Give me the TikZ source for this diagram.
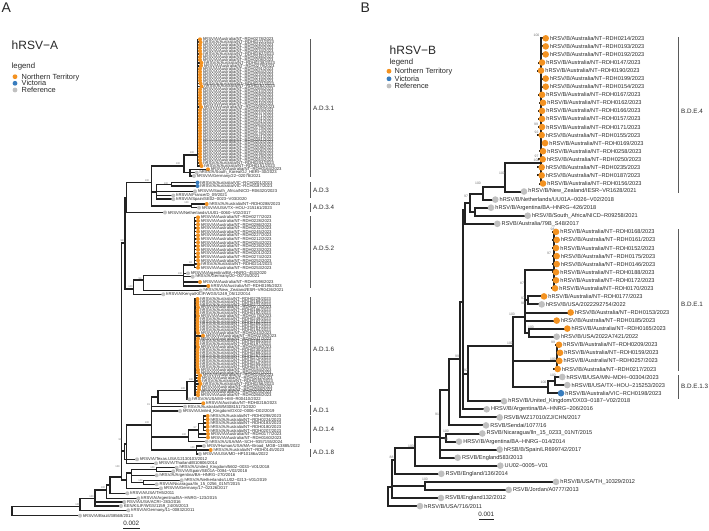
\documentclass[tikz,border=0pt]{standalone}
\usepackage{fontspec}
\setmainfont{Liberation Sans}
\usetikzlibrary{backgrounds}
\definecolor{ntor}{RGB}{243,146,33}
\definecolor{vicb}{RGB}{57,125,190}
\definecolor{refg}{RGB}{192,192,192}
\definecolor{brc}{RGB}{35,35,35}
\definecolor{txc}{RGB}{40,40,40}
\definecolor{bsc}{RGB}{115,115,115}
\definecolor{clc}{RGB}{90,90,90}
\tikzset{
 brA/.style={draw=brc, line width=1.5pt, line cap=rect},
 brB/.style={draw=brc, line width=2pt, line cap=rect},
 tipA/.style={circle, inner sep=0pt, minimum size=4pt, draw=none},
 tipB/.style={circle, inner sep=0pt, minimum size=6.6pt, draw=none},
 labA/.style={anchor=west, inner sep=0pt, font=\fontsize{4.2}{4.2}\selectfont, text=txc, xshift=0.5pt},
 labB/.style={anchor=west, inner sep=0pt, font=\fontsize{5.6}{5.6}\selectfont, text=txc, xshift=0.7pt},
 bsA/.style={inner sep=0pt, font=\fontsize{2.6}{2.6}\selectfont, text=bsc},
 bsB/.style={inner sep=0pt, font=\fontsize{3.4}{3.4}\selectfont, text=bsc},
 clade/.style={draw=clc, line width=0.8pt},
 cladelab/.style={anchor=west, inner sep=0pt, font=\fontsize{6.3}{6.3}\selectfont, text=txc},
 legdot/.style={circle, inner sep=0pt, minimum size=4.8pt, draw=none},
 legtxt/.style={anchor=base west, inner sep=0pt, font=\fontsize{7.4}{7.4}\selectfont, text=txc},
 ttl/.style={anchor=base west, inner sep=0pt, font=\fontsize{12}{12}\selectfont, text=txc},
 legttl/.style={anchor=base west, inner sep=0pt, font=\fontsize{7.8}{7.8}\selectfont, text=txc},
 panel/.style={anchor=north west, inner sep=0pt, font=\fontsize{14}{14}\selectfont, text=txc},
 sbar/.style={draw=brc, line width=0.9pt},
 slab/.style={anchor=base, inner sep=0pt, font=\fontsize{6.3}{6.3}\selectfont, text=txc},
}
\newcommand\tipa[5]{\node[tipA,fill=#4] (#1) at (#2,#3) {};\node[labA] (#1l) at (#1.east) {#5};}
\newcommand\tipb[5]{\node[tipB,fill=#4] (#1) at (#2,#3) {};\node[labB] (#1l) at (#1.east) {#5};}
\newcommand\ntb[4]{\tipb{#1}{#2}{#3}{ntor}{hRSV/B/Australia/NT−RDH#4/2023}}
\newcommand\nta[4]{\tipa{#1}{#2}{#3}{ntor}{hRSV/A/Australia/NT−RDH#4/2023}}
\newcounter{bsn}
\newcommand\bsa[3]{\stepcounter{bsn}\node[bsA] (bs\thebsn) at (#1,#2) {#3};}
\newcommand\bsb[3]{\stepcounter{bsn}\node[bsB] (bs\thebsn) at (#1,#2) {#3};}
\newcommand\cbar[6]{\coordinate (#1t) at (#2,#3);\coordinate (#1b) at (#2,#4);\draw[clade] (#1t) -- (#1b);\node[cladelab] (#1l) at (#2+3,#5) {#6};}
\begin{document}
\begin{tikzpicture}[x=1pt,y=-1pt]
\useasboundingbox (0,0) rectangle (709,530);
% ---------- panel letters, titles, legends ----------
\node[panel] (pA) at (1.5,3) {A};
\node[panel] (pB) at (360.5,3) {B};
\node[ttl] (tA) at (11.5,49.3) {hRSV−A};
\node[legttl] (lgA) at (11.5,68.7) {legend};
\node[legdot,fill=ntor] (lA1) at (15,76.7) {};
\node[legdot,fill=vicb] (lA2) at (15,83.3) {};
\node[legdot,fill=refg] (lA3) at (15,90) {};
\node[legtxt] (lA1t) at (21.5,79.3) {Northern Territory};
\node[legtxt] (lA2t) at (21.5,85.9) {Victoria};
\node[legtxt] (lA3t) at (21.5,92.6) {Reference};
\node[ttl] (tB) at (389.5,54.5) {hRSV−B};
\node[legttl] (lgB) at (389.5,64.5) {legend};
\node[legdot,fill=ntor] (lB1) at (389,71.2) {};
\node[legdot,fill=vicb] (lB2) at (389,78.8) {};
\node[legdot,fill=refg] (lB3) at (389,86) {};
\node[legtxt] (lB1t) at (394.5,73.8) {Northern Territory};
\node[legtxt] (lB2t) at (394.5,81.4) {Victoria};
\node[legtxt] (lB3t) at (394.5,88.6) {Reference};
% ---------- panel A tips ----------
\foreach \lab/\xx [count=\i] in {0278/200,0222/200.5,0240/200,0260/200,0234/200,0262/200.5,0246/200,0208/200,0238/201.5,0279/201,0291/200,0264/200,0220/200,0215/200,0248/200,0247/200.5,0282/201.5,0265/200,0244/200,0280/200,0213/200,0210/200,0216/200,0290/201,0225/200,0237/200,0271/200,0231/200,0181/200,0263/200,0179/200,0173/200,0176/200,0221/200,0281/200,0202/200,0200/200,0209/200,0206/200,0236/200,0219/200,0283/200,0204/200.5,0151/201.5}{
 \pgfmathsetmacro\yy{39.3+2.947*(\i-1)}
 \nta{a31-\i}{\xx}{\yy}{\lab}
}
\foreach \lab/\xx [count=\i] in {0277/198,0228/198,0286/198,0232/198,0245/198,0227/198,0212/198,0254/198,0226/198,0233/198,0201/198,0274/198,0252/198,0214/198.5,0253/198}{
 \pgfmathsetmacro\yy{217.3+3.6*(\i-1)}
 \nta{a52-\i}{\xx}{\yy}{\lab}
}
\foreach \lab/\xx [count=\i] in {0229/197.5,0189/197.5,0272/197.5,0273/198,0186/197.5,0192/197.5,0178/198,0249/197.5,0182/197.5,0269/197.5,0261/197.5,0194/197.5,0243/198,0239/203,0241/198,0285/197.5,0197/197.5,0259/198,0230/197.5,0268/197.5,0267/197.5,0270/197.5,0275/197.5,0255/197.5,0257/197.5,0184/198,0287/198,0196/200,0242/199,0205/199.5,0256/200.5,0284/199,0289/199,0203/198,0266/198}{
 \pgfmathsetmacro\yy{299+2.83*(\i-1)}
 \nta{a16-\i}{\xx}{\yy}{\lab}
}
\nta{a164}{208}{169.3}{0164}
\tipa{akor}{196.7}{172.7}{refg}{hRSV/A/South\_Korea/GJ\_HERI−30/2023}
\tipa{ager22}{194}{176}{refg}{hRSV/A/Germany/22−02078/2021}
\tipa{avic1}{197.5}{182.5}{vicb}{hRSV/A/Australia/VIC−RCH0201/2023}
\tipa{avic2}{197.5}{186}{vicb}{hRSV/A/Australia/VIC−RCH0187/2023}
\tipa{asa}{195}{191.3}{refg}{hRSV/A/South\_Africa/NICD−R06320/2023}
\tipa{afra}{173.3}{195.5}{refg}{hRSV/A/France/D\_09/2021}
\tipa{aspa}{173.3}{199.2}{refg}{hRSV/A/Spain/SE02−0023−V03/2020}
\nta{a288}{206.7}{204}{0288}
\tipa{atx}{199}{207.7}{refg}{hRSV/A/USA/TX−HOU−215161/2023}
\tipa{anet}{165}{212.5}{refg}{hRSV/A/Netherlands/UU01−0060−V02/2017}
\tipa{aarg}{188}{273.3}{refg}{hRSV/A/Argentina/BA−HNRG−453/2020}
\tipa{ager20}{192.7}{276.7}{refg}{hRSV/A/Germany/20−00725/2021}
\nta{a198}{200}{282}{0198}
\nta{a195}{208.3}{286}{0195}
\tipa{anz}{200.7}{290.7}{refg}{hRSV/A/New\_Zealand/ESR−VR0426/2021}
\tipa{aken}{163.3}{294.3}{refg}{hRSV/A/Kenya/KILIF/WGS/1249\_05/12/2014}
\tipa{ami}{189.5}{399.3}{refg}{hRSV/A/USA/MI−HMI−R00410/2022}
\nta{a218}{203.3}{403.3}{0218}
\tipa{awm}{185}{406.7}{refg}{RSV/A/Australia/WM30815173/2020}
\tipa{auk19}{180}{411}{refg}{hRSV/A/United\_Kingdom/OX02−0006−D02/2019}
\nta{a14-1}{207.7}{416}{0298}
\nta{a14-2}{207.7}{419.5}{0224}
\nta{a14-3}{207.7}{423}{0183}
\nta{a14-4}{207.7}{426.8}{0180}
\nta{a14-5}{207.7}{430.5}{0207}
\nta{a14-6}{208}{434}{0177}
\nta{a14-7}{208}{437.5}{0160}
\tipa{ausa24}{206.7}{441.7}{refg}{hRSV/A/USA/MA−SCH−9357155/2024}
\tipa{ama}{204}{446}{refg}{hRSV/Human/USA/MA−Broad\_MGB−13885/2022}
\nta{a145}{210.7}{450}{0145}
\tipa{amd}{200}{454}{refg}{hRSV/A/USA/MD−HP10186a/2022}
\tipa{atex}{137}{459.3}{refg}{hRSV/A/Texas.USA/12130103/2012}
\tipa{atha}{156}{463.3}{refg}{hRSV/A/Thailand/B10806/2014}
\tipa{auk18}{176.7}{467.7}{refg}{hRSV/A/United\_Kingdom/5602−0033−V01/2018}
\tipa{aspa18}{173.3}{471.3}{refg}{RSV/A/Spain/SE01A−0084−V02/2018}
\tipa{aarg16}{156.7}{475.3}{refg}{hRSV/A/Argentina/BA−HNRG−270/2016}
\tipa{anet19}{181.7}{480.3}{refg}{hRSV/A/Netherlands/LU02−0213−V01/2019}
\tipa{anic}{156.7}{484.3}{refg}{RSV/A/Nicaragua/Iln\_15\_0256\_01NT/2015}
\tipa{ager17}{161}{488.3}{refg}{hRSV/A/Germany/17−02326/2017}
\tipa{ath5}{127.3}{493.3}{refg}{hRSV/A/USA/TH5/2011}
\tipa{aarg15}{138.3}{498.3}{refg}{hRSV/A/Argentina/BA−HNRG−123/2015}
\tipa{aacri}{124.3}{502}{refg}{RSV/A/USA/ACRI−283/2016}
\tipa{akenk}{121}{506}{refg}{KEN/KILIF/WGS/1159\_24/05/2013}
\tipa{ager11}{128.3}{510.3}{refg}{hRSV/A/Germany/11−00832/2011}
\tipa{abra}{80}{515.7}{refg}{hRSV/A/Brazil/38568/2013}
% ---------- panel A internal nodes ----------
\coordinate (o31) at (197.5,155);
\coordinate (p190) at (190,172.7);
\coordinate (p184) at (184,166);
\coordinate (p171) at (171.7,184.3);
\coordinate (p156) at (156.7,192);
\coordinate (p191) at (191.7,205.8);
\coordinate (p151) at (151.7,182.7);
\coordinate (p126) at (126.7,197.7);
\coordinate (o52) at (194.5,265);
\coordinate (p183) at (183.3,275.7);
\coordinate (p143) at (143.3,280);
\coordinate (p133) at (133.3,289);
\coordinate (p125) at (125,243);
\coordinate (o16) at (195,381.7);
\coordinate (p187) at (187,390.7);
\coordinate (p158) at (158,397);
\coordinate (p14c) at (203.3,423.3);
\coordinate (p14b) at (198.3,430);
\coordinate (p14a) at (188.3,437);
\coordinate (p18) at (196.7,450);
\coordinate (p151c) at (151.7,425);
\coordinate (p126b) at (126.7,444);
\coordinate (p125b) at (124.5,451);
\coordinate (pUKSp) at (156.7,469.5);
\coordinate (pNetNic) at (143.3,482.3);
\coordinate (p131) at (131.7,473);
\coordinate (pG) at (126.7,480);
\coordinate (p121) at (121.7,477);
\coordinate (p110) at (110,485);
\coordinate (p106) at (106.7,490);
\coordinate (p95) at (95,498.3);
\coordinate (p80) at (80,506.7);
\coordinate (pR) at (12,511);
% ---------- panel A bootstrap ----------
\bsa{192}{153}{100}\bsa{178}{164}{100}\bsa{147}{180.5}{100}\bsa{166}{184}{100}
\bsa{186.5}{202.3}{100}\bsa{122}{241}{98}\bsa{130.5}{287}{100}\bsa{140}{278.3}{94}
\bsa{180}{273.5}{100}\bsa{190.5}{263}{92}\bsa{191}{379.8}{100}\bsa{183}{388.8}{100}
\bsa{147}{423}{100}\bsa{148.5}{405}{91}\bsa{184}{435}{100}\bsa{195}{428}{97}
\bsa{192.5}{448}{100}\bsa{120}{440}{99}\bsa{117.5}{466.5}{100}\bsa{140.5}{480.3}{100}
\bsa{152.5}{467.5}{100}\bsa{103}{488}{100}\bsa{91.5}{496.5}{100}\bsa{77.5}{505}{100}
% ---------- panel A clades ----------
\cbar{cA1}{310}{39}{177}{108}{A.D.3.1}
\cbar{cA2}{310}{182}{198}{190.5}{A.D.3}
\cbar{cA3}{310}{203}{212}{207.5}{A.D.3.4}
\cbar{cA4}{310}{216}{288}{248}{A.D.5.2}
\cbar{cA5}{310}{297}{402}{349}{A.D.1.6}
\cbar{cA6}{310}{405}{414.5}{410}{A.D.1}
\cbar{cA7}{310}{416}{443}{429.5}{A.D.1.4}
\cbar{cA8}{310}{449}{457}{452.5}{A.D.1.8}
% ---------- panel B tips ----------
\ntb{b1}{545.7}{38.3}{0214}
\ntb{b2}{545.7}{46.4}{0193}
\ntb{b3}{545.7}{54.4}{0192}
\ntb{b4}{542}{62.5}{0147}
\ntb{b5}{541}{70.6}{0190}
\ntb{b6}{545.7}{78.6}{0199}
\ntb{b7}{545.7}{86.7}{0154}
\ntb{b8}{542}{94.8}{0167}
\ntb{b9}{543}{102.8}{0162}
\ntb{b10}{542}{110.9}{0166}
\ntb{b11}{542}{118.9}{0157}
\ntb{b12}{542}{127.0}{0171}
\ntb{b13}{541.7}{135.1}{0155}
\ntb{b14}{545}{143.1}{0169}
\ntb{b15}{543}{151.2}{0258}
\ntb{b16}{542.7}{159.3}{0250}
\ntb{b17}{541.7}{167.3}{0235}
\ntb{b18}{541.7}{175.4}{0187}
\ntb{b19}{543}{183.5}{0156}
\tipb{b20}{524}{191.5}{refg}{hRSV/B/New\_Zealand/IESR−VR1628/2021}
\tipb{b21}{495.3}{199.6}{refg}{hRSV/B/Netherlands/UU01A−0026−V02/2018}
\tipb{b22}{491}{207.7}{refg}{hRSV/B/Argentina/BA−HNRG−426/2018}
\tipb{b23}{527.7}{215.7}{refg}{hRSV/B/South\_Africa/NICD−R09258/2021}
\tipb{b24}{497.3}{223.8}{refg}{RSVB/Australia/79B\_S48/2017}
\ntb{b25}{556}{231.9}{0168}
\ntb{b26}{556.7}{239.9}{0161}
\ntb{b27}{556}{248.0}{0152}
\ntb{b28}{556.7}{256.1}{0175}
\ntb{b29}{556.7}{264.1}{0146}
\ntb{b30}{556}{272.2}{0188}
\ntb{b31}{556}{280.3}{0172}
\ntb{b32}{555}{288.3}{0170}
\ntb{b33}{544}{296.4}{0177}
\tipb{b34}{541.7}{304.4}{refg}{hRSV/B/USA/2022292754/2022}
\ntb{b35}{570.7}{312.5}{0153}
\ntb{b36}{556.7}{320.6}{0185}
\ntb{b37}{567.3}{328.6}{0165}
\tipb{b38}{556.7}{336.7}{refg}{hRSV/B/USA/2022A7421/2022}
\ntb{b39}{559}{344.8}{0209}
\ntb{b40}{560}{352.8}{0159}
\ntb{b41}{559.3}{360.9}{0257}
\ntb{b42}{557.7}{369.0}{0217}
\tipb{b43}{562.3}{377.0}{refg}{hRSV/B/USA/MN−MDH−00304/2023}
\tipb{b44}{567.3}{385.1}{refg}{hRSV/B/USA/TX−HOU−215253/2023}
\tipb{b45}{561}{393.2}{vicb}{hRSV/B/Australia/VIC−RCH0198/2023}
\tipb{b46}{504}{401.2}{refg}{hRSV/B/United\_Kingdom/OX03−0187−V02/2018}
\tipb{b47}{486.7}{409.3}{refg}{HRSV/B/Argentina/BA−HNRG−206/2016}
\tipb{b48}{499.7}{417.4}{refg}{RSVB/WZ17010/ZJ/CHN/2017}
\tipb{b49}{486}{425.4}{refg}{RSVB/Sendai/1077/16}
\tipb{b50}{482.3}{433.5}{refg}{RSVB/Nicaragua/Iln\_15\_0233\_01NT/2015}
\tipb{b51}{459}{441.6}{refg}{HRSV/B/Argentina/BA−HNRG−014/2014}
\tipb{b52}{499.7}{449.6}{refg}{hRSB/B/Spain/LR699742/2017}
\tipb{b53}{457.7}{457.7}{refg}{RSVB/England583/2013}
\tipb{b54}{500.3}{465.7}{refg}{UU02−0005−V01}
\tipb{b55}{441.3}{473.8}{refg}{RSVB/England/136/2014}
\tipb{b56}{556}{481.9}{refg}{hRSV/B/USA/TH\_10329/2012}
\tipb{b57}{508.7}{489.9}{refg}{RSVB/Jordan/A0777/2013}
\tipb{b58}{441}{498.0}{refg}{RSVB/England132/2012}
\tipb{b59}{420}{506.1}{refg}{hRSV/B/USA/716/2011}
% ---------- panel B internal nodes ----------
\coordinate (qE4) at (540.5,163);
\coordinate (qN505) at (505,187);
\coordinate (qN483) at (482.7,193.5);
\coordinate (qN475) at (475,211.7);
\coordinate (qN470) at (470,202.6);
\coordinate (qN465) at (465,210);
\coordinate (qS1) at (553.5,270);
\coordinate (qA527) at (527.5,300.4);
\coordinate (qB527) at (529,332.7);
\coordinate (qE1) at (525,317);
\coordinate (qS2) at (556.5,361);
\coordinate (qN555) at (555,381);
\coordinate (qE13) at (548,387);
\coordinate (qM) at (513,346);
\coordinate (qN468) at (468,373.5);
\coordinate (qN463) at (463,302);
\coordinate (qN459) at (459.5,359);
\coordinate (qN449) at (449,390);
\coordinate (qNA) at (446,437.5);
\coordinate (qN440) at (440,437);
\coordinate (qN415) at (415,448);
\coordinate (qN395) at (395,460);
\coordinate (qN425) at (425,486);
\coordinate (qX) at (392,487);
\coordinate (qR) at (388,496);
% ---------- panel B bootstrap ----------
\bsb{536.5}{35.5}{100}\bsb{536}{124.5}{99}\bsb{536.5}{132.5}{92}\bsb{536.5}{156.5}{97}
\bsb{536.5}{160.5}{100}\bsb{502}{173.5}{100}\bsb{478}{183.5}{100}\bsb{466}{196.5}{97}
\bsb{552.5}{229.5}{98}\bsb{549}{253.5}{97}\bsb{522}{283.5}{87}\bsb{523}{298.5}{97}
\bsb{523}{303}{98}\bsb{531}{327}{100}\bsb{512}{314.5}{100}\bsb{510}{343}{100}
\bsb{457}{356}{99}\bsb{466}{370}{92}\bsb{553}{342.5}{99}\bsb{553}{359.5}{100}
\bsb{543.5}{382.5}{100}\bsb{553}{375.5}{100}\bsb{437}{414.5}{91}\bsb{446}{431.5}{100}
\bsb{446}{439.8}{90}\bsb{411}{446.5}{100}\bsb{391.5}{457.5}{88}\bsb{425}{479.8}{100}
% ---------- panel B clades ----------
\cbar{cB1}{678}{37}{193}{111}{B.D.E.4}
\cbar{cB2}{678}{229}{371}{304}{B.D.E.1}
\cbar{cB3}{678}{375}{399}{386}{B.D.E.1.3}
% ---------- scale bars ----------
\coordinate (sA1) at (123,528);
\coordinate (sA2) at (139.5,528);
\draw[sbar] (sA1) -- (sA2);
\node[slab] (sAl) at (131.2,525.6) {0.002};
\coordinate (sB1) at (479,519.8);
\coordinate (sB2) at (493.5,519.8);
\draw[sbar] (sB1) -- (sB2);
\node[slab] (sBl) at (486.3,516.8) {0.001};
% ---------- branches ----------
\begin{pgfonlayer}{background}
\fill[white] (0,0) rectangle (709,530);
% panel A
\foreach \i in {1,...,44} \draw[brA] (o31) |- (a31-\i);
\foreach \i in {1,...,15} \draw[brA] (o52) |- (a52-\i);
\foreach \i in {1,...,35} \draw[brA] (o16) |- (a16-\i);
\draw[brA] (p190) |- (a164); \draw[brA] (p190) |- (akor); \draw[brA] (p190) |- (ager22);
\draw[brA] (p184) |- (o31); \draw[brA] (p184) |- (p190);
\draw[brA] (p171) |- (avic1); \draw[brA] (p171) |- (avic2);
\draw[brA] (p156) |- (p171); \draw[brA] (p156) |- (asa); \draw[brA] (p156) |- (afra); \draw[brA] (p156) |- (aspa);
\draw[brA] (p191) |- (a288); \draw[brA] (p191) |- (atx);
\draw[brA] (p151) |- (p184); \draw[brA] (p151) |- (p156); \draw[brA] (p151) |- (p191);
\draw[brA] (p126) |- (p151); \draw[brA] (p126) |- (anet);
\draw[brA] (p183) |- (o52); \draw[brA] (p183) |- (aarg); \draw[brA] (p183) |- (ager20); \draw[brA] (p183) |- (a198); \draw[brA] (p183) |- (a195);
\draw[brA] (p143) |- (p183); \draw[brA] (p143) |- (anz);
\draw[brA] (p133) |- (p143); \draw[brA] (p133) |- (aken);
\draw[brA] (p125) |- (p126); \draw[brA] (p125) |- (p133);
\draw[brA] (p187) |- (o16); \draw[brA] (p187) |- (ami);
\draw[brA] (p158) |- (p187); \draw[brA] (p158) |- (a218);
\foreach \i in {1,...,5} \draw[brA] (p14c) |- (a14-\i);
\draw[brA] (p14b) |- (p14c); \draw[brA] (p14b) |- (a14-6); \draw[brA] (p14b) |- (a14-7);
\draw[brA] (p14a) |- (p14b); \draw[brA] (p14a) |- (ausa24);
\draw[brA] (p18) |- (ama); \draw[brA] (p18) |- (a145); \draw[brA] (p18) |- (amd);
\draw[brA] (p151c) |- (p158); \draw[brA] (p151c) |- (awm); \draw[brA] (p151c) |- (auk19); \draw[brA] (p151c) |- (p14a); \draw[brA] (p151c) |- (p18);
\draw[brA] (p126b) |- (p151c); \draw[brA] (p126b) |- (atha);
\draw[brA] (p125b) |- (p126b); \draw[brA] (p125b) |- (atex);
\draw[brA] (pUKSp) |- (auk18); \draw[brA] (pUKSp) |- (aspa18);
\draw[brA] (pNetNic) |- (anet19); \draw[brA] (pNetNic) |- (anic);
\draw[brA] (p131) |- (pUKSp); \draw[brA] (p131) |- (aarg16); \draw[brA] (p131) |- (pNetNic);
\draw[brA] (pG) |- (p131); \draw[brA] (pG) |- (ager17);
\draw[brA] (p121) |- (p125); \draw[brA] (p121) |- (p125b); \draw[brA] (p121) |- (pG);
\draw[brA] (p110) |- (p121); \draw[brA] (p110) |- (ath5);
\draw[brA] (p106) |- (p110); \draw[brA] (p106) |- (aarg15);
\draw[brA] (p95) |- (p106); \draw[brA] (p95) |- (aacri); \draw[brA] (p95) |- (akenk);
\draw[brA] (p80) |- (p95); \draw[brA] (p80) |- (ager11);
\draw[brA] (pR) |- (p80); \draw[brA] (pR) |- (abra);
% panel B
\foreach \i in {1,...,19} \draw[brB] (qE4) |- (b\i);
\draw[brB] (qN505) |- (qE4); \draw[brB] (qN505) |- (b20);
\draw[brB] (qN483) |- (qN505); \draw[brB] (qN483) |- (b21);
\draw[brB] (qN475) |- (b22); \draw[brB] (qN475) |- (b23);
\draw[brB] (qN470) |- (qN483); \draw[brB] (qN470) |- (qN475);
\draw[brB] (qN465) |- (qN470); \draw[brB] (qN465) |- (b24);
\foreach \i in {25,...,32} \draw[brB] (qS1) |- (b\i);
\draw[brB] (qA527) |- (b33); \draw[brB] (qA527) |- (b34);
\draw[brB] (qB527) |- (b37); \draw[brB] (qB527) |- (b38);
\draw[brB] (qE1) |- (qS1); \draw[brB] (qE1) |- (qA527); \draw[brB] (qE1) |- (b35); \draw[brB] (qE1) |- (b36); \draw[brB] (qE1) |- (qB527);
\foreach \i in {39,...,42} \draw[brB] (qS2) |- (b\i);
\draw[brB] (qN555) |- (b43); \draw[brB] (qN555) |- (b44);
\draw[brB] (qE13) |- (qN555); \draw[brB] (qE13) |- (b45);
\draw[brB] (qM) |- (qE1); \draw[brB] (qM) |- (qS2); \draw[brB] (qM) |- (qE13);
\draw[brB] (qN468) |- (qM); \draw[brB] (qN468) |- (b46);
\draw[brB] (qN463) |- (qN465); \draw[brB] (qN463) |- (qN468); \draw[brB] (qN463) |- (b47);
\draw[brB] (qN459) |- (qN463); \draw[brB] (qN459) |- (b48);
\draw[brB] (qN449) |- (qN459); \draw[brB] (qN449) |- (b49);
\draw[brB] (qNA) |- (b50); \draw[brB] (qNA) |- (b51);
\draw[brB] (qN440) |- (qN449); \draw[brB] (qN440) |- (qNA); \draw[brB] (qN440) |- (b52); \draw[brB] (qN440) |- (b53);
\draw[brB] (qN415) |- (qN440); \draw[brB] (qN415) |- (b54);
\draw[brB] (qN395) |- (qN415); \draw[brB] (qN395) |- (b55);
\draw[brB] (qN425) |- (b56); \draw[brB] (qN425) |- (b57);
\draw[brB] (qX) |- (qN395); \draw[brB] (qX) |- (qN425); \draw[brB] (qX) |- (b58);
\draw[brB] (qR) |- (qX); \draw[brB] (qR) |- (b59);
\end{pgfonlayer}
\end{tikzpicture}
\end{document}
